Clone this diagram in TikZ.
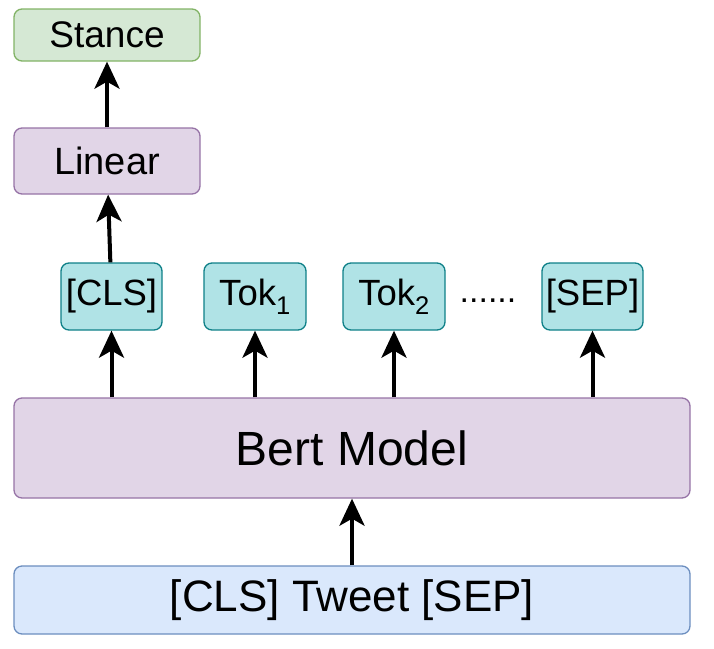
\documentclass[tikz,border=0pt]{standalone}
\usepackage{fontspec}
\setmainfont{Liberation Sans}
\usetikzlibrary{positioning, arrows.meta}

\definecolor{stancefill}{HTML}{D5E8D4}
\definecolor{stanceline}{HTML}{82B366}
\definecolor{bertfill}{HTML}{E1D5E7}
\definecolor{bertline}{HTML}{9673A6}
\definecolor{tokfill}{HTML}{B0E3E6}
\definecolor{tokline}{HTML}{0E8088}
\definecolor{infill}{HTML}{DAE8FC}
\definecolor{inline}{HTML}{6C8EBF}

\tikzset{
    box/.style={draw, rounded corners=8pt, line width=1.3pt, inner sep=0pt},
    outbox/.style={box, fill=stancefill, draw=stanceline, minimum width=186pt, font=\fontsize{37}{42}\selectfont},
    layerbox/.style={box, fill=bertfill, draw=bertline},
    tokbox/.style={box, fill=tokfill, draw=tokline, minimum height=67pt, font=\fontsize{36.5}{42}\selectfont},
    inbox/.style={box, fill=infill, draw=inline, minimum width=676pt, minimum height=68pt, font=\fontsize{44}{48}\selectfont},
    flow/.style={->, line width=4pt}
}

\begin{document}
\begin{tikzpicture}[x=1pt, y=-1pt, >={Stealth[length=27pt, width=25pt, inset=7pt]}]
                \useasboundingbox (0,0) rectangle (714,648);

                % Output side
                \node[outbox, minimum height=52pt] (stance) at (107, 35) {Stance};
                \node[layerbox, minimum width=186pt, minimum height=66pt, font=\fontsize{38}{42}\selectfont] (linear) at (107, 161) {Linear};

                % Tokens
                \node[tokbox, minimum width=101pt] (cls) at (111.5, 296.5) {[CLS]};
                \node[tokbox, minimum width=102pt] (tok1) at (255, 296.5) {Tok\textsubscript{1}};
                \node[tokbox, minimum width=102pt] (tok2) at (394, 296.5) {Tok\textsubscript{2}};
                \node[tokbox, minimum width=101pt] (sep) at (592.5, 296.5) {[SEP]};
                \node[anchor=base, inner sep=0pt, font=\fontsize{34}{40}\selectfont] (dots) at (488, 302) {......};

                % Encoder and input
                \node[layerbox, minimum width=676pt, minimum height=100pt, font=\fontsize{48}{52}\selectfont] (bert) at (352, 448) {Bert Model};
                \node[inbox] (input) at (352, 600) {[CLS] Tweet [SEP]};

                % Arrows
                \draw[flow] (input) -- (bert);
                \draw[flow] (bert.north -| cls) -- (cls);
                \draw[flow] (bert.north -| tok1) -- (tok1);
                \draw[flow] (bert.north -| tok2) -- (tok2);
                \draw[flow] (bert.north -| sep) -- (sep);
                \draw[flow] (cls) -- (linear);
                \draw[flow] (linear) -- (stance);
            \end{tikzpicture}
\end{document}
